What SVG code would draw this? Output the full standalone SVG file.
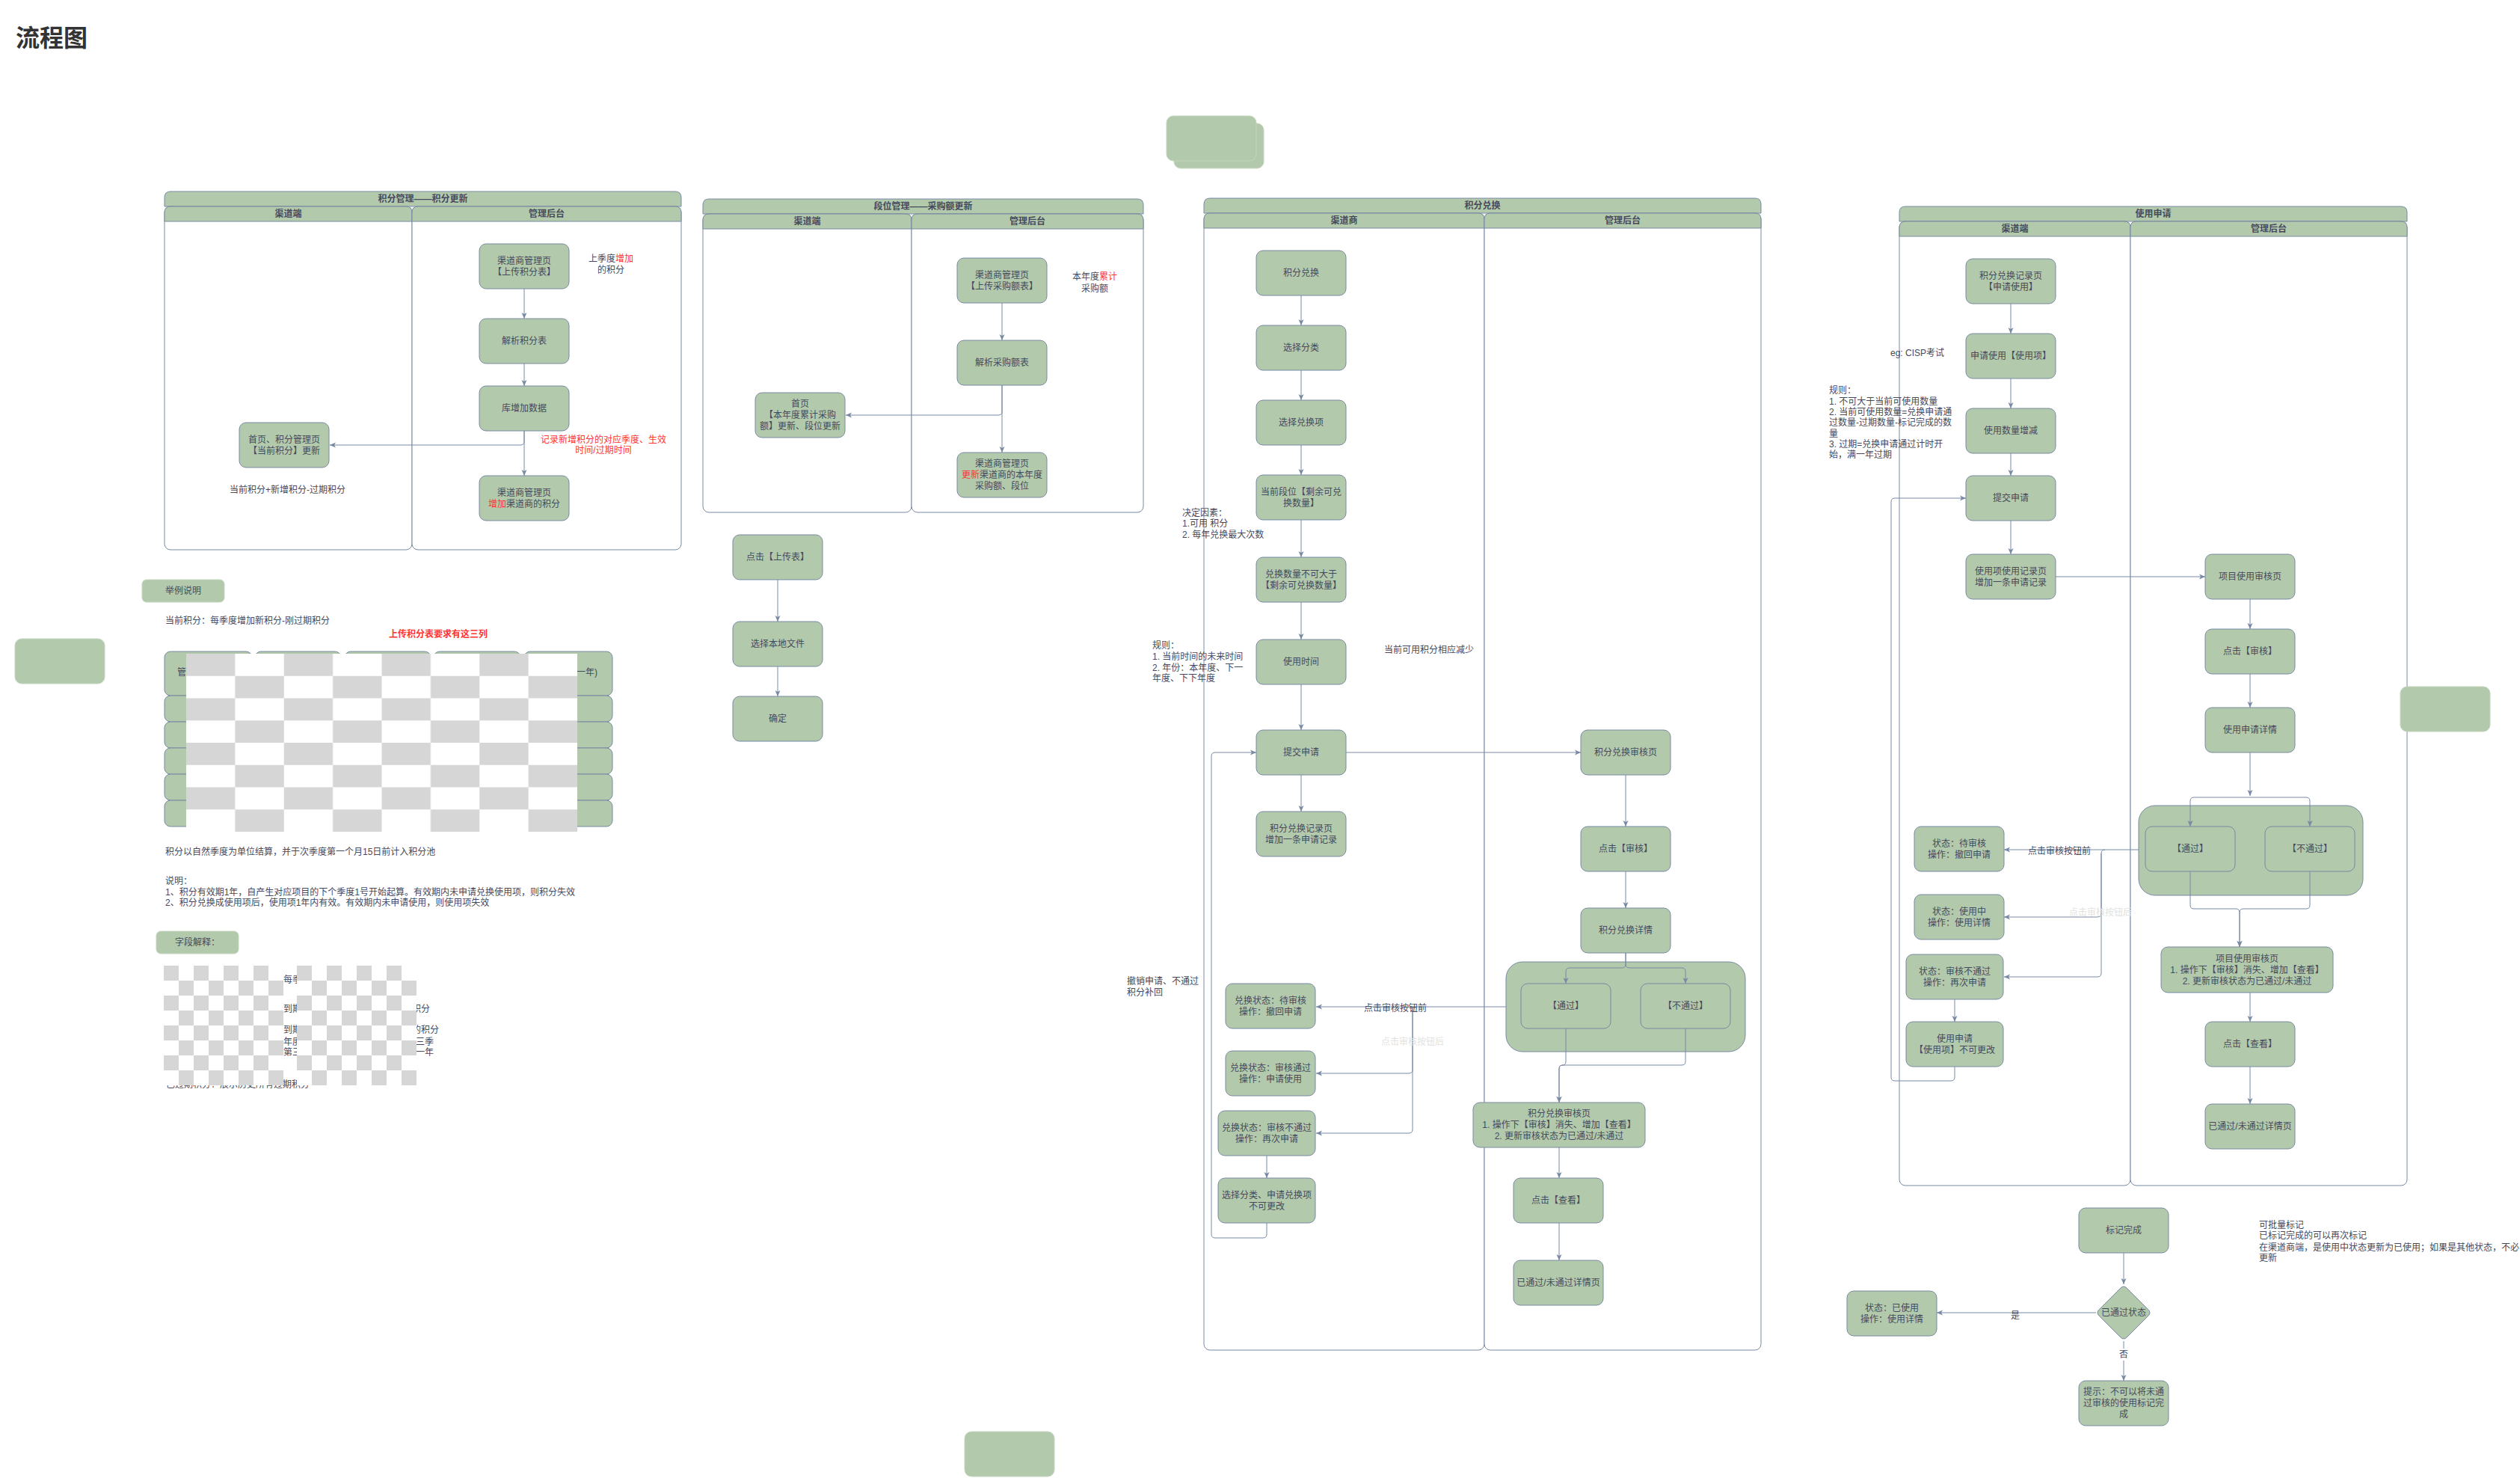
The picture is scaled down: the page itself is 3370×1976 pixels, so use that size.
<svg xmlns="http://www.w3.org/2000/svg" width="3370" height="1976" viewBox="0 0 3370 1976">
<style>
.n{fill:#B2C9AB;stroke:#788AA3;stroke-width:1}
.g{fill:#B2C9AB;stroke:#C5D6BF;stroke-width:1}
.t{font-family:"Liberation Sans","Noto Sans CJK SC",sans-serif;font-size:12px;fill:#46495D;text-anchor:middle;dominant-baseline:central}
.l{text-anchor:start}
.e{text-anchor:end}
.b{font-weight:bold}
.r{fill:#FF3333}
.f{fill:#E2E2E2}
.c{fill:none;stroke:#788AA3;stroke-width:1;marker-end:url(#ar)}
.cn{fill:none;stroke:#788AA3;stroke-width:1}
.lane{fill:#FFFFFF;stroke:#788AA3;stroke-width:1}
.hd{fill:#B2C9AB;stroke:#788AA3;stroke-width:1}
</style>
<defs>
<marker id="ar" viewBox="0 0 8 8" refX="8" refY="4" markerWidth="8" markerHeight="8" markerUnits="userSpaceOnUse" orient="auto">
<path d="M0,0.5 L8,4 L0,7.5 L2,4 Z" fill="#788AA3"/>
</marker>
<pattern id="ck1" x="249" y="874" width="130.75" height="59.5" patternUnits="userSpaceOnUse">
<rect width="130.75" height="59.5" fill="#FFFFFF"/>
<rect width="65.375" height="29.75" fill="#D6D6D6"/>
<rect x="65.375" y="29.75" width="65.375" height="29.75" fill="#D6D6D6"/>
</pattern>
<pattern id="ck2" x="219" y="1291" width="40" height="40" patternUnits="userSpaceOnUse">
<rect width="40" height="40" fill="#FFFFFF"/>
<rect width="20" height="20" fill="#D6D6D6"/>
<rect x="20" y="20" width="20" height="20" fill="#D6D6D6"/>
</pattern>
<pattern id="ck3" x="397" y="1291" width="40" height="40" patternUnits="userSpaceOnUse">
<rect width="40" height="40" fill="#FFFFFF"/>
<rect width="20" height="20" fill="#D6D6D6"/>
<rect x="20" y="20" width="20" height="20" fill="#D6D6D6"/>
</pattern>
</defs>
<rect width="3370" height="1976" fill="#FFFFFF"/>

<text x="21" y="62" style="font-family:'Liberation Sans','Noto Sans CJK SC',sans-serif;font-size:32px;font-weight:bold;fill:#333333">流程图</text>

<!-- Pool 1 -->
<g id="pool1">
<path class="hd" d="M220,264 Q220,256 228,256 H903 Q911,256 911,264 V276 H220 Z"/>
<rect class="lane" x="220" y="276" width="331" height="459" rx="8"/>
<path class="hd" d="M220,284 Q220,276 228,276 H543 Q551,276 551,284 V296 H220 Z"/>
<rect class="lane" x="551" y="276" width="360" height="459" rx="8"/>
<path class="hd" d="M551,284 Q551,276 559,276 H903 Q911,276 911,284 V296 H551 Z"/>
<text class="t b" x="565.5" y="266">积分管理——积分更新</text>
<text class="t b" x="385.5" y="286">渠道端</text>
<text class="t b" x="731" y="286">管理后台</text>
</g>
<!-- Pool 2 -->
<g id="pool2">
<path class="hd" d="M940,274 Q940,266 948,266 H1521 Q1529,266 1529,274 V286 H940 Z"/>
<rect class="lane" x="940" y="286" width="279" height="399" rx="8"/>
<path class="hd" d="M940,294 Q940,286 948,286 H1211 Q1219,286 1219,294 V306 H940 Z"/>
<rect class="lane" x="1219" y="286" width="310" height="399" rx="8"/>
<path class="hd" d="M1219,294 Q1219,286 1227,286 H1521 Q1529,286 1529,294 V306 H1219 Z"/>
<text class="t b" x="1234.5" y="276">段位管理——采购额更新</text>
<text class="t b" x="1079.5" y="296">渠道端</text>
<text class="t b" x="1374" y="296">管理后台</text>
</g>
<!-- Pool 3 -->
<g id="pool3">
<path class="hd" d="M1610,273 Q1610,265 1618,265 H2347 Q2355,265 2355,273 V285 H1610 Z"/>
<rect class="lane" x="1610" y="285" width="375" height="1520" rx="8"/>
<path class="hd" d="M1610,293 Q1610,285 1618,285 H1977 Q1985,285 1985,293 V305 H1610 Z"/>
<rect class="lane" x="1985" y="285" width="370" height="1520" rx="8"/>
<path class="hd" d="M1985,293 Q1985,285 1993,285 H2347 Q2355,285 2355,293 V305 H1985 Z"/>
<text class="t b" x="1982.5" y="275">积分兑换</text>
<text class="t b" x="1797.5" y="295">渠道商</text>
<text class="t b" x="2170" y="295">管理后台</text>
</g>
<!-- Pool 4 -->
<g id="pool4">
<path class="hd" d="M2540,284 Q2540,276 2548,276 H3211 Q3219,276 3219,284 V296 H2540 Z"/>
<rect class="lane" x="2540" y="296" width="309" height="1289" rx="8"/>
<path class="hd" d="M2540,304 Q2540,296 2548,296 H2841 Q2849,296 2849,304 V316 H2540 Z"/>
<rect class="lane" x="2849" y="296" width="370" height="1289" rx="8"/>
<path class="hd" d="M2849,304 Q2849,296 2857,296 H3211 Q3219,296 3219,304 V316 H2849 Z"/>
<text class="t b" x="2879.5" y="286">使用申请</text>
<text class="t b" x="2694.5" y="306">渠道端</text>
<text class="t b" x="3034" y="306">管理后台</text>
</g>

<!-- Plain green boxes -->
<g id="box-top"><rect class="g" x="1570" y="165" width="120" height="60" rx="9"/><rect class="g" x="1560" y="155" width="120" height="60" rx="9"/></g>
<g id="box-left"><rect class="g" x="20" y="854" width="120" height="60" rx="9"/></g>
<g id="box-bottom"><rect class="g" x="1290" y="1914" width="120" height="60" rx="9"/></g>
<g id="box-right"><rect class="g" x="3210" y="918" width="120" height="60" rx="9"/></g>

<!-- Pool 1 nodes -->
<g id="s1n1"><rect class="n" x="641" y="326" width="120" height="60" rx="9"/><text class="t"><tspan x="701" y="348.5">渠道商管理页</tspan><tspan x="701" y="363.5">【上传积分表】</tspan></text></g>
<g id="s1n2"><rect class="n" x="641" y="426" width="120" height="60" rx="9"/><text class="t" x="701" y="456">解析积分表</text></g>
<g id="s1n3"><rect class="n" x="641" y="516" width="120" height="60" rx="9"/><text class="t" x="701" y="546">库增加数据</text></g>
<g id="s1n4"><rect class="n" x="641" y="636" width="120" height="60" rx="9"/><text class="t"><tspan x="701" y="658.5">渠道商管理页</tspan><tspan x="701" y="673.5"><tspan class="r">增加</tspan>渠道商的积分</tspan></text></g>
<g id="s1n5"><rect class="n" x="320" y="565" width="120" height="60" rx="9"/><text class="t"><tspan x="380" y="587.5">首页、积分管理页</tspan><tspan x="380" y="602.5">【当前积分】更新</tspan></text></g>

<!-- Pool 2 nodes -->
<g id="s2n1"><rect class="n" x="1280" y="345" width="120" height="60" rx="9"/><text class="t"><tspan x="1340" y="367.5">渠道商管理页</tspan><tspan x="1340" y="382.5">【上传采购额表】</tspan></text></g>
<g id="s2n2"><rect class="n" x="1280" y="455" width="120" height="60" rx="9"/><text class="t" x="1340" y="485">解析采购额表</text></g>
<g id="s2n3"><rect class="n" x="1280" y="605" width="120" height="60" rx="9"/><text class="t"><tspan x="1340" y="620">渠道商管理页</tspan><tspan x="1340" y="635"><tspan class="r">更新</tspan>渠道商的本年度</tspan><tspan x="1340" y="650">采购额、段位</tspan></text></g>
<g id="s2n4"><rect class="n" x="1010" y="525" width="120" height="60" rx="9"/><text class="t"><tspan x="1070" y="540">首页</tspan><tspan x="1070" y="555">【本年度累计采购</tspan><tspan x="1070" y="570">额】更新、段位更新</tspan></text></g>

<!-- Upload nodes -->
<g id="up1"><rect class="n" x="980" y="715" width="120" height="60" rx="9"/><text class="t" x="1040" y="745">点击【上传表】</text></g>
<g id="up2"><rect class="n" x="980" y="831" width="120" height="60" rx="9"/><text class="t" x="1040" y="861">选择本地文件</text></g>
<g id="up3"><rect class="n" x="980" y="931" width="120" height="60" rx="9"/><text class="t" x="1040" y="961">确定</text></g>

<!-- Pool 3 nodes -->
<g id="s3n1"><rect class="n" x="1680" y="335" width="120" height="60" rx="9"/><text class="t" x="1740" y="365">积分兑换</text></g>
<g id="s3n2"><rect class="n" x="1680" y="435" width="120" height="60" rx="9"/><text class="t" x="1740" y="465">选择分类</text></g>
<g id="s3n3"><rect class="n" x="1680" y="535" width="120" height="60" rx="9"/><text class="t" x="1740" y="565">选择兑换项</text></g>
<g id="s3n4"><rect class="n" x="1680" y="635" width="120" height="60" rx="9"/><text class="t"><tspan x="1740" y="657.5">当前段位【剩余可兑</tspan><tspan x="1740" y="672.5">换数量】</tspan></text></g>
<g id="s3n5"><rect class="n" x="1680" y="745" width="120" height="60" rx="9"/><text class="t"><tspan x="1740" y="767.5">兑换数量不可大于</tspan><tspan x="1740" y="782.5">【剩余可兑换数量】</tspan></text></g>
<g id="s3n6"><rect class="n" x="1680" y="855" width="120" height="60" rx="9"/><text class="t" x="1740" y="885">使用时间</text></g>
<g id="s3n7"><rect class="n" x="1680" y="976" width="120" height="60" rx="9"/><text class="t" x="1740" y="1006">提交申请</text></g>
<g id="s3n8"><rect class="n" x="1680" y="1085" width="120" height="60" rx="9"/><text class="t"><tspan x="1740" y="1107.5">积分兑换记录页</tspan><tspan x="1740" y="1122.5">增加一条申请记录</tspan></text></g>
<g id="s3n9"><rect class="n" x="2114" y="976" width="120" height="60" rx="9"/><text class="t" x="2174" y="1006">积分兑换审核页</text></g>
<g id="s3n10"><rect class="n" x="2114" y="1105" width="120" height="60" rx="9"/><text class="t" x="2174" y="1135">点击【审核】</text></g>
<g id="s3n11"><rect class="n" x="2114" y="1214" width="120" height="60" rx="9"/><text class="t" x="2174" y="1244">积分兑换详情</text></g>
<g id="s3grp"><rect class="n" x="2014" y="1286" width="320" height="120" rx="22"/></g>
<g id="s3pass"><rect class="n" x="2034" y="1315" width="120" height="60" rx="9"/><text class="t" x="2094" y="1345">【通过】</text></g>
<g id="s3fail"><rect class="n" x="2194" y="1315" width="120" height="60" rx="9"/><text class="t" x="2254" y="1345">【不通过】</text></g>
<g id="s3n12"><rect class="n" x="1970" y="1474" width="230" height="60" rx="9"/><text class="t"><tspan x="2085" y="1489">积分兑换审核页</tspan><tspan x="2085" y="1504">1. 操作下【审核】消失、增加【查看】</tspan><tspan x="2085" y="1519">2. 更新审核状态为已通过/未通过</tspan></text></g>
<g id="s3n13"><rect class="n" x="2024" y="1575" width="120" height="60" rx="9"/><text class="t" x="2084" y="1605">点击【查看】</text></g>
<g id="s3n14"><rect class="n" x="2024" y="1685" width="120" height="60" rx="9"/><text class="t" x="2084" y="1715">已通过/未通过详情页</text></g>
<g id="s3st1"><rect class="n" x="1639" y="1315" width="120" height="60" rx="9"/><text class="t"><tspan x="1699" y="1337.5">兑换状态：待审核</tspan><tspan x="1699" y="1352.5">操作：撤回申请</tspan></text></g>
<g id="s3st2"><rect class="n" x="1639" y="1405" width="120" height="60" rx="9"/><text class="t"><tspan x="1699" y="1427.5">兑换状态：审核通过</tspan><tspan x="1699" y="1442.5">操作：申请使用</tspan></text></g>
<g id="s3st3"><rect class="n" x="1629" y="1485" width="130" height="60" rx="9"/><text class="t"><tspan x="1694" y="1507.5">兑换状态：审核不通过</tspan><tspan x="1694" y="1522.5">操作：再次申请</tspan></text></g>
<g id="s3st4"><rect class="n" x="1629" y="1575" width="130" height="60" rx="9"/><text class="t"><tspan x="1694" y="1597.5">选择分类、申请兑换项</tspan><tspan x="1694" y="1612.5">不可更改</tspan></text></g>

<!-- Pool 4 nodes -->
<g id="s4n1"><rect class="n" x="2629" y="346" width="120" height="60" rx="9"/><text class="t"><tspan x="2689" y="368.5">积分兑换记录页</tspan><tspan x="2689" y="383.5">【申请使用】</tspan></text></g>
<g id="s4n2"><rect class="n" x="2629" y="446" width="120" height="60" rx="9"/><text class="t" x="2689" y="476">申请使用【使用项】</text></g>
<g id="s4n3"><rect class="n" x="2629" y="546" width="120" height="60" rx="9"/><text class="t" x="2689" y="576">使用数量增减</text></g>
<g id="s4n4"><rect class="n" x="2629" y="636" width="120" height="60" rx="9"/><text class="t" x="2689" y="666">提交申请</text></g>
<g id="s4n5"><rect class="n" x="2629" y="741" width="120" height="60" rx="9"/><text class="t"><tspan x="2689" y="763.5">使用项使用记录页</tspan><tspan x="2689" y="778.5">增加一条申请记录</tspan></text></g>
<g id="s4n6"><rect class="n" x="2949" y="741" width="120" height="60" rx="9"/><text class="t" x="3009" y="771">项目使用审核页</text></g>
<g id="s4n7"><rect class="n" x="2949" y="841" width="120" height="60" rx="9"/><text class="t" x="3009" y="871">点击【审核】</text></g>
<g id="s4n8"><rect class="n" x="2949" y="946" width="120" height="60" rx="9"/><text class="t" x="3009" y="976">使用申请详情</text></g>
<g id="s4grp"><rect class="n" x="2860" y="1077" width="300" height="120" rx="22"/></g>
<g id="s4pass"><rect class="n" x="2869" y="1105" width="120" height="60" rx="9"/><text class="t" x="2929" y="1135">【通过】</text></g>
<g id="s4fail"><rect class="n" x="3029" y="1105" width="120" height="60" rx="9"/><text class="t" x="3089" y="1135">【不通过】</text></g>
<g id="s4n9"><rect class="n" x="2890" y="1266" width="230" height="61" rx="9"/><text class="t"><tspan x="3005" y="1281.5">项目使用审核页</tspan><tspan x="3005" y="1296.5">1. 操作下【审核】消失、增加【查看】</tspan><tspan x="3005" y="1311.5">2. 更新审核状态为已通过/未通过</tspan></text></g>
<g id="s4n10"><rect class="n" x="2949" y="1366" width="120" height="60" rx="9"/><text class="t" x="3009" y="1396">点击【查看】</text></g>
<g id="s4n11"><rect class="n" x="2949" y="1476" width="120" height="60" rx="9"/><text class="t" x="3009" y="1506">已通过/未通过详情页</text></g>
<g id="s4st1"><rect class="n" x="2560" y="1105" width="120" height="60" rx="9"/><text class="t"><tspan x="2620" y="1127.5">状态：待审核</tspan><tspan x="2620" y="1142.5">操作：撤回申请</tspan></text></g>
<g id="s4st2"><rect class="n" x="2560" y="1196" width="120" height="60" rx="9"/><text class="t"><tspan x="2620" y="1218.5">状态：使用中</tspan><tspan x="2620" y="1233.5">操作：使用详情</tspan></text></g>
<g id="s4st3"><rect class="n" x="2549" y="1276" width="130" height="60" rx="9"/><text class="t"><tspan x="2614" y="1298.5">状态：审核不通过</tspan><tspan x="2614" y="1313.5">操作：再次申请</tspan></text></g>
<g id="s4st4"><rect class="n" x="2549" y="1366" width="130" height="60" rx="9"/><text class="t"><tspan x="2614" y="1388.5">使用申请</tspan><tspan x="2614" y="1403.5">【使用项】不可更改</tspan></text></g>

<!-- Mark complete -->
<g id="mk1"><rect class="n" x="2780" y="1615" width="120" height="60" rx="9"/><text class="t" x="2840" y="1645">标记完成</text></g>
<g id="mkd"><path class="n" d="M2836,1722 Q2840,1718 2844,1722 L2873,1751 Q2877,1755 2873,1759 L2844,1788 Q2840,1792 2836,1788 L2807,1759 Q2803,1755 2807,1751 Z"/><text class="t" x="2840" y="1755">已通过状态</text></g>
<g id="mk2"><rect class="n" x="2470" y="1726" width="120" height="60" rx="9"/><text class="t"><tspan x="2530" y="1748.5">状态：已使用</tspan><tspan x="2530" y="1763.5">操作：使用详情</tspan></text></g>
<g id="mk3"><rect class="n" x="2780" y="1846" width="120" height="60" rx="9"/><text class="t"><tspan x="2840" y="1861">提示：不可以将未通</tspan><tspan x="2840" y="1876">过审核的使用标记完</tspan><tspan x="2840" y="1891">成</tspan></text></g>

<!-- Connectors -->
<g id="connectors">
<path class="c" d="M701,386 V426"/>
<path class="c" d="M701,486 V516"/>
<path class="c" d="M701,576 V636"/>
<path class="c" d="M701,576 V590 Q701,595 696,595 H441"/>
<path class="c" d="M1340,405 V455"/>
<path class="c" d="M1340,515 V605"/>
<path class="c" d="M1340,515 V550 Q1340,555 1335,555 H1131"/>
<path class="c" d="M1040,775 V831"/>
<path class="c" d="M1040,891 V931"/>
<path class="c" d="M1740,395 V435"/>
<path class="c" d="M1740,495 V535"/>
<path class="c" d="M1740,595 V635"/>
<path class="c" d="M1740,695 V745"/>
<path class="c" d="M1740,805 V855"/>
<path class="c" d="M1740,915 V976"/>
<path class="c" d="M1740,1036 V1085"/>
<path class="c" d="M1800,1006 H2114"/>
<path class="c" d="M2174,1036 V1105"/>
<path class="c" d="M2174,1165 V1214"/>
<path class="c" d="M2174,1274 V1289 Q2174,1294 2169,1294 H2099 Q2094,1294 2094,1299 V1315"/>
<path class="c" d="M2174,1274 V1289 Q2174,1294 2179,1294 H2249 Q2254,1294 2254,1299 V1315"/>
<path class="c" d="M2094,1375 V1419 Q2094,1424 2090,1424 Q2085,1424 2085,1429 V1474"/>
<path class="c" d="M2254,1375 V1419 Q2254,1424 2249,1424 H2090 Q2085,1424 2085,1429 V1474"/>
<path class="c" d="M2085,1534 V1575"/>
<path class="c" d="M2085,1635 V1685"/>
<path class="c" d="M2014,1346 H1760"/>
<path class="c" d="M1889,1346 V1430 Q1889,1435 1884,1435 H1760"/>
<path class="c" d="M1889,1346 V1510 Q1889,1515 1884,1515 H1760"/>
<path class="c" d="M1694,1545 V1575"/>
<path class="c" d="M1694,1635 V1650 Q1694,1655 1689,1655 H1625 Q1620,1655 1620,1650 V1011 Q1620,1006 1625,1006 H1680"/>
<path class="c" d="M2689,406 V446"/>
<path class="c" d="M2689,506 V546"/>
<path class="c" d="M2689,606 V636"/>
<path class="c" d="M2689,696 V741"/>
<path class="c" d="M2749,771 H2949"/>
<path class="c" d="M3009,801 V841"/>
<path class="c" d="M3009,901 V946"/>
<path class="c" d="M3009,1006 V1064"/>
<path class="c" d="M3009,1066 H2934 Q2929,1066 2929,1071 V1105"/>
<path class="c" d="M3009,1066 H3084 Q3089,1066 3089,1071 V1105"/>
<path class="c" d="M2929,1165 V1210 Q2929,1215 2934,1215 H2990 Q2995,1215 2995,1220 V1266"/>
<path class="c" d="M3089,1165 V1210 Q3089,1215 3084,1215 H3000 Q2995,1215 2995,1220 V1266"/>
<path class="c" d="M3009,1327 V1366"/>
<path class="c" d="M3009,1426 V1476"/>
<path class="c" d="M2860,1136 H2680"/>
<path class="c" d="M2815,1136 Q2810,1136 2810,1141 V1221 Q2810,1226 2805,1226 H2680"/>
<path class="c" d="M2810,1141 V1301 Q2810,1306 2805,1306 H2680"/>
<path class="c" d="M2614,1336 V1366"/>
<path class="c" d="M2614,1426 V1440 Q2614,1445 2609,1445 H2534 Q2529,1445 2529,1440 V671 Q2529,666 2534,666 H2629"/>
<path class="c" d="M2840,1675 V1717"/>
<path class="c" d="M2803,1755 H2590"/>
<path class="c" d="M2840,1793 V1846"/>
<text class="t" x="1866" y="1348">点击审核按钮前</text>
<text class="t f" x="1889" y="1393">点击审核按钮后</text>
<text class="t" x="2754" y="1138">点击审核按钮前</text>
<text class="t f" x="2809" y="1220">点击审核按钮后</text>
<text class="t" x="2695" y="1759">是</text>
<rect x="2833" y="1803" width="14" height="16" fill="#FFFFFF"/>
<text class="t" x="2840" y="1811">否</text>
</g>

<!-- Notes -->
<g id="notes">
<text class="t"><tspan x="817" y="346">上季度<tspan class="r">增加</tspan></tspan><tspan x="817" y="361">的积分</tspan></text>
<text class="t r"><tspan x="807" y="588">记录新增积分的对应季度、生效</tspan><tspan x="807" y="602">时间/过期时间</tspan></text>
<text class="t" x="384.5" y="655">当前积分+新增积分-过期积分</text>
<text class="t"><tspan x="1464" y="370">本年度<tspan class="r">累计</tspan></tspan><tspan x="1464" y="386">采购额</tspan></text>
<text class="t l"><tspan x="1581" y="686">决定因素：</tspan><tspan x="1581" y="700">1.可用 积分</tspan><tspan x="1581" y="715">2. 每年兑换最大次数</tspan></text>
<text class="t l"><tspan x="1541" y="863">规则：</tspan><tspan x="1541" y="878">1. 当前时间的未来时间</tspan><tspan x="1541" y="893">2. 年份：本年度、下一</tspan><tspan x="1541" y="907">年度、下下年度</tspan></text>
<text class="t" x="1911" y="869">当前可用积分相应减少</text>
<text class="t l"><tspan x="1507" y="1312">撤销申请、不通过</tspan><tspan x="1507" y="1327">积分补回</tspan></text>
<text class="t l" x="2528" y="472">eg: CISP考试</text>
<text class="t l"><tspan x="2446" y="522">规则：</tspan><tspan x="2446" y="536.5">1. 不可大于当前可使用数量</tspan><tspan x="2446" y="551">2. 当前可使用数量=兑换申请通</tspan><tspan x="2446" y="565">过数量-过期数量-标记完成的数</tspan><tspan x="2446" y="579.5">量</tspan><tspan x="2446" y="594">3. 过期=兑换申请通过计时开</tspan><tspan x="2446" y="608">始，满一年过期</tspan></text>
<text class="t l"><tspan x="3021" y="1638">可批量标记</tspan><tspan x="3021" y="1652">已标记完成的可以再次标记</tspan><tspan x="3021" y="1668">在渠道商端，是使用中状态更新为已使用；如果是其他状态，不必</tspan><tspan x="3021" y="1682">更新</tspan></text>
</g>

<!-- Example section -->
<g id="example">
<rect class="g" x="190" y="775" width="110" height="30" rx="6"/>
<text class="t" x="245" y="790">举例说明</text>
<text class="t l" x="221" y="830">当前积分：每季度增加新积分-刚过期积分</text>
<text class="t r b" x="586" y="848">上传积分表要求有这三列</text>
<rect class="n" x="220" y="871" width="117" height="59" rx="8"/>
<rect class="n" x="341" y="871" width="115" height="59" rx="8"/>
<rect class="n" x="461" y="871" width="115" height="59" rx="8"/>
<rect class="n" x="580" y="871" width="116" height="59" rx="8"/>
<rect class="n" x="701" y="871" width="118" height="59" rx="8"/>
<rect class="n" x="220" y="930" width="599" height="35" rx="8"/>
<rect class="n" x="220" y="965" width="599" height="35" rx="8"/>
<rect class="n" x="220" y="1000" width="599" height="35" rx="8"/>
<rect class="n" x="220" y="1035" width="599" height="35" rx="8"/>
<rect class="n" x="220" y="1070" width="599" height="35" rx="8"/>
<text class="t l" x="237" y="899">管</text>
<text class="t e" x="799" y="899">一年)</text>
<rect x="249" y="874" width="523" height="238" fill="url(#ck1)"/>
<text class="t l" x="221" y="1139">积分以自然季度为单位结算，并于次季度第一个月15日前计入积分池</text>
<text class="t l"><tspan x="221" y="1178">说明：</tspan><tspan x="221" y="1193">1、积分有效期1年，自产生对应项目的下个季度1号开始起算。有效期内未申请兑换使用项，则积分失效</tspan><tspan x="221" y="1207">2、积分兑换成使用项后，使用项1年内有效。有效期内未申请使用，则使用项失效</tspan></text>
<rect class="g" x="209" y="1245" width="110" height="30" rx="6"/>
<text class="t" x="264" y="1260">字段解释：</text>
<text class="t l" x="379" y="1310">每季</text>
<text class="t l" x="379" y="1349">到期</text>
<text class="t l" x="379" y="1377">到期</text>
<text class="t l" x="379" y="1393">年度</text>
<text class="t l" x="379" y="1407">第三</text>
<text class="t e" x="575" y="1349">积分</text>
<text class="t e" x="587" y="1377">的积分</text>
<text class="t e" x="580" y="1393">三季</text>
<text class="t e" x="580" y="1407">一年</text>
<text class="t l" x="222" y="1450">已过期积分：展示历史所有过期积分</text>
<rect x="219" y="1291" width="160" height="160" fill="url(#ck2)"/>
<rect x="397" y="1291" width="160" height="160" fill="url(#ck3)"/>
</g>
</svg>
